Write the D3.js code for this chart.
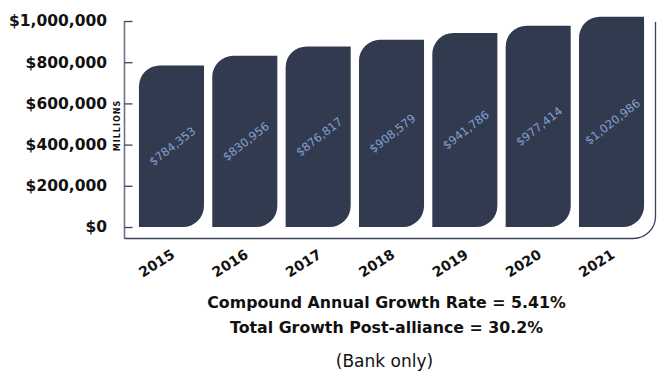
<!DOCTYPE html>
<html>
<head>
<meta charset="utf-8">
<script src="https://cdn.jsdelivr.net/npm/d3@7"></script>
<style>
  body { margin: 0; background: #fff; }
  svg { display: block; }
</style>
</head>
<body>
<script>
// chart data
const years = ["2015", "2016", "2017", "2018", "2019", "2020", "2021"];
const deposits = [784353, 830956, 876817, 908579, 941786, 977414, 1020986];
const tickValues = [0, 200000, 400000, 600000, 800000, 1000000];
const notes = ["Compound Annual Growth Rate = 5.41%", "Total Growth Post-alliance = 30.2%"];
const footnote = "(Bank only)";

const data = years.map((y, i) => ({ year: y, value: deposits[i] }));

width = 659;
height = 377;

svg = d3.select("body")
        .append("svg")
        .attr("width", width)
        .attr("height", height);

// scales
x = d3.scaleBand()
      .domain(years)
      .range([134.8, 648.2])
      .paddingInner(0.113)
      .paddingOuter(0.0565);

y = d3.scaleLinear()
      .domain([0, 1000000])
      .range([227, 21]);

const frameLeft = 124.5, frameBottom = 238.5, frameRight = 655.5, frameR = 22;

// frame: left line, bottom line with rounded corner, right line
svg.append("path")
   .attr("d", `M${frameLeft},${y(1000000)} V${frameBottom}`)
   .attr("stroke", "#6b7385")
   .attr("stroke-width", 1.6)
   .attr("fill", "none");
svg.append("path")
   .attr("d", `M${frameLeft},${frameBottom} H${frameRight - frameR} A${frameR},${frameR} 0 0 0 ${frameRight},${frameBottom - frameR} V${y(1000000) + 1}`)
   .attr("stroke", "#3c4459")
   .attr("stroke-width", 1.3)
   .attr("fill", "none");

// y axis (ticks point inward)
svg.append("g")
   .attr("transform", `translate(${frameLeft},0)`)
   .call(d3.axisLeft(y)
           .tickValues(tickValues)
           .tickSizeInner(-8)
           .tickSizeOuter(0)
           .tickPadding(17.5)
           .tickFormat(d => "$" + d3.format(",")(d)))
   .call(g => g.select(".domain").remove())
   .call(g => g.selectAll(".tick line").attr("stroke", "#3c4459").attr("stroke-width", 1.3))
   .call(g => g.selectAll(".tick text")
               .attr("fill", "#111")
               .style("font-family", "DejaVu Sans")
               .style("font-weight", "bold")
               .style("font-size", "15.5px"));

// MILLIONS label
svg.append("text")
   .attr("transform", `translate(119.8,125.5) rotate(-90)`)
   .attr("text-anchor", "middle")
   .style("font-family", "DejaVu Sans")
   .style("font-weight", "bold")
   .style("font-size", "8px")
   .style("letter-spacing", "1px")
   .attr("fill", "#111")
   .text("MILLIONS");

// bars: rounded top-left and bottom-right corners
function barPath(d) {
  const x0 = x(d.year), x1 = x0 + x.bandwidth();
  const y0 = y(d.value), y1 = y(0);
  const r = 21;
  return `M${x0},${y1} V${y0 + r} A${r},${r} 0 0 1 ${x0 + r},${y0} H${x1} V${y1 - r} A${r},${r} 0 0 1 ${x1 - r},${y1} Z`;
}

svg.selectAll(".bar")
   .data(data)
   .join("path")
   .attr("class", "bar")
   .attr("d", barPath)
   .attr("fill", "#323a4f");

// value labels inside bars
svg.selectAll(".value")
   .data(data)
   .join("text")
   .attr("class", "value")
   .attr("transform", d => `translate(${x(d.year) + x.bandwidth() / 2 + 1},${(y(d.value) + y(0)) / 2}) rotate(-38)`)
   .attr("text-anchor", "middle")
   .attr("dy", "0.35em")
   .attr("fill", "#80a0cf")
   .style("font-family", "DejaVu Sans")
   .style("font-size", "11.5px")
   .text(d => "$" + d3.format(",")(d.value));

// year labels
svg.selectAll(".year")
   .data(data)
   .join("text")
   .attr("class", "year")
   .attr("transform", d => `translate(${x(d.year) + x.bandwidth() / 2 - 1},${frameBottom + 10}) rotate(-32)`)
   .attr("text-anchor", "end")
   .attr("dy", "0.72em")
   .attr("fill", "#111")
   .style("font-family", "DejaVu Sans")
   .style("font-weight", "bold")
   .style("font-size", "14px")
   .text(d => d.year);

// growth notes
svg.selectAll(".note")
   .data(notes)
   .join("text")
   .attr("class", "note")
   .attr("x", 386.5)
   .attr("y", (d, i) => 308 + i * 24.5)
   .attr("text-anchor", "middle")
   .attr("fill", "#111")
   .style("font-family", "DejaVu Sans")
   .style("font-weight", "bold")
   .style("font-size", "15.8px")
   .text(d => d);

svg.append("text")
   .attr("x", 384.5)
   .attr("y", 367)
   .attr("text-anchor", "middle")
   .attr("fill", "#111")
   .style("font-family", "DejaVu Sans")
   .style("font-size", "17px")
   .text(footnote);
</script>
</body>
</html>
